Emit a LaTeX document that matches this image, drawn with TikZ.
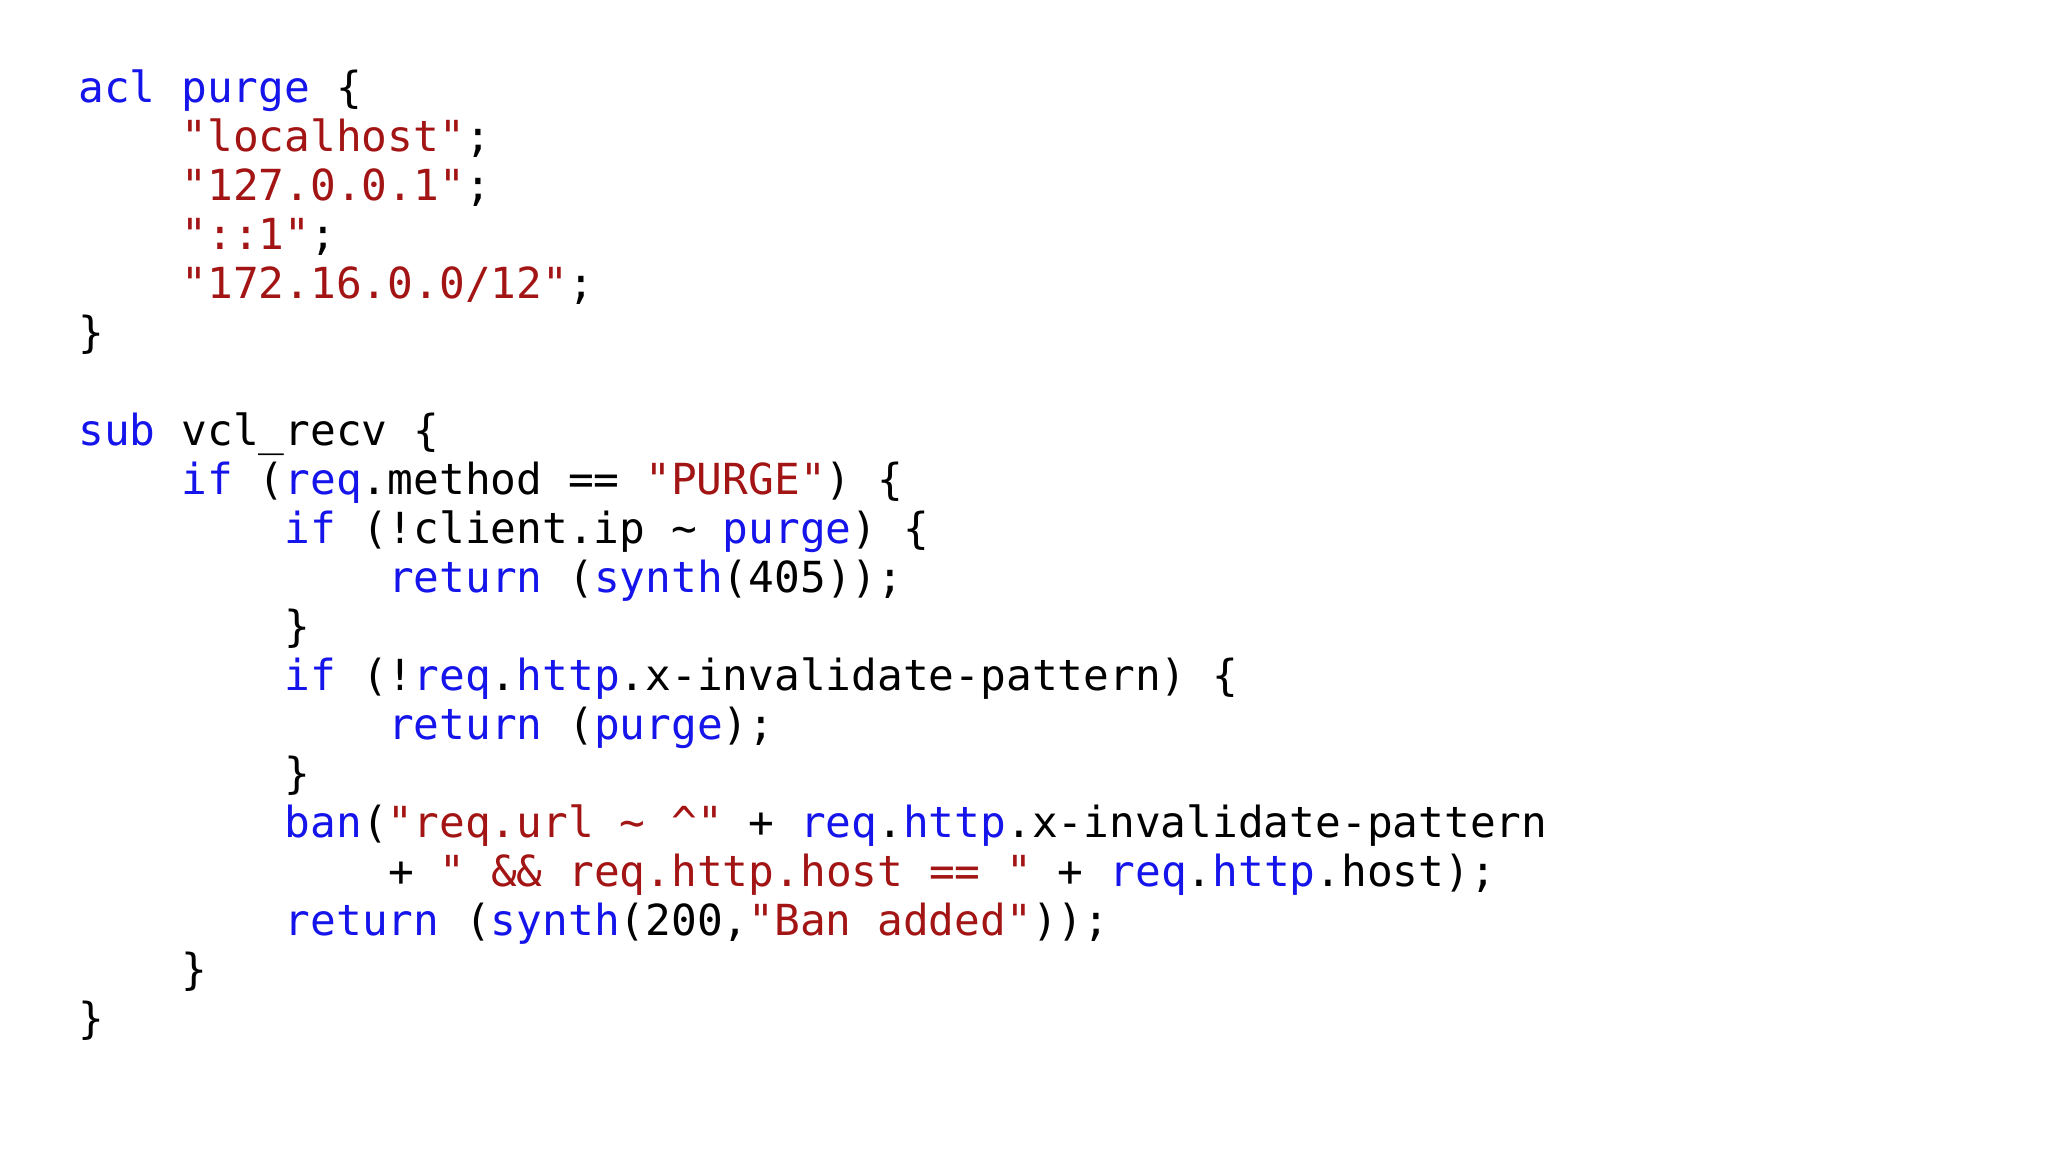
\documentclass[tikz,border=0pt]{standalone}
\usepackage{fontspec}
\newfontfamily\codefont{DejaVu Sans Mono}
\definecolor{kwblue}{RGB}{20,20,235}
\definecolor{strred}{RGB}{163,21,21}
\newcommand\kw[1]{\textcolor{kwblue}{#1}}
\newcommand\st[1]{\textcolor{strred}{#1}}
\tikzset{codeline/.style={anchor=base west,inner sep=0pt,font=\codefont\fontsize{21.4pt}{24pt}\selectfont}}
\begin{document}
\begin{tikzpicture}[x=1pt,y=1pt]
\useasboundingbox (0,0) rectangle (1024,-576);
\def\cw{12.9}
\def\lh{24.5}
\foreach \n/\ind/\txt in {
0/0/{\kw{acl purge} \{},
1/4/{\st{"localhost"};},
2/4/{\st{"127.0.0.1"};},
3/4/{\st{"::1"};},
4/4/{\st{"172.16.0.0/12"};},
5/0/{\}},
7/0/{\kw{sub} vcl\_recv \{},
8/4/{\kw{if} (\kw{req}.method == \st{"PURGE"}) \{},
9/8/{\kw{if} (!client.ip \textasciitilde{} \kw{purge}) \{},
10/12/{\kw{return} (\kw{synth}(405));},
11/8/{\}},
12/8/{\kw{if} (!\kw{req}.\kw{http}.x-invalidate-pattern) \{},
13/12/{\kw{return} (\kw{purge});},
14/8/{\}},
15/8/{\kw{ban}(\st{"req.url \textasciitilde{} \textasciicircum{}"} + \kw{req}.\kw{http}.x-invalidate-pattern},
16/12/{+ \st{" \&\& req.http.host == "} + \kw{req}.\kw{http}.host);},
17/8/{\kw{return} (\kw{synth}(200,\st{"Ban added"}));},
18/4/{\}},
19/0/{\}}}
  \node[codeline] (l\n) at ({39+\ind*\cw},{-51-\n*\lh}) {\txt};
\end{tikzpicture}
\end{document}
